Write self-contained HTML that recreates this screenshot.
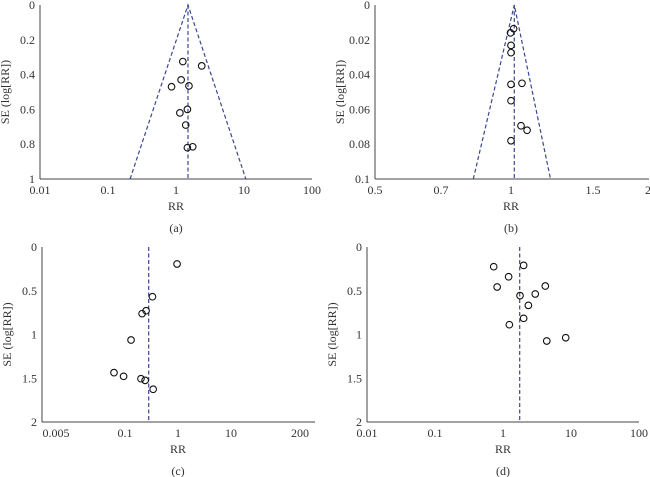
<!DOCTYPE html>
<html><head><meta charset="utf-8"><style>
html,body{margin:0;padding:0;background:#fff;}
svg{display:block;font-family:"Liberation Serif",serif;}
</style></head><body>
<svg id="fig" width="650" height="477" viewBox="0 0 650 477" xmlns="http://www.w3.org/2000/svg"></svg>
<script>
// Panel (a)
const aRR = [1.26, 2.39, 1.19, 0.86, 1.55, 1.47, 1.14, 1.39, 1.47, 1.76];
const aSE = [0.325, 0.35, 0.43, 0.47, 0.465, 0.6, 0.62, 0.69, 0.82, 0.815];
const aXTicks = [0.01, 0.1, 1, 10, 100];
const aXLabels = ["0.01", "0.1", "1", "10", "100"];
const aYTicks = [0, 0.2, 0.4, 0.6, 0.8, 1];
const aYLabels = ["0", "0.2", "0.4", "0.6", "0.8", "1"];
const aPooled = [1.5];
// Panel (b)
const bRR = [1.016, 0.998, 1.0, 1.0, 1.0, 1.067, 1.0, 1.061, 1.098, 1.0];
const bSE = [0.0136, 0.016, 0.0232, 0.0274, 0.0456, 0.045, 0.055, 0.0694, 0.072, 0.078];
const bXTicks = [0.5, 0.7, 1, 1.5, 2];
const bXLabels = ["0.5", "0.7", "1", "1.5", "2"];
const bYTicks = [0, 0.02, 0.04, 0.06, 0.08, 0.1];
const bYLabels = ["0", "0.02", "0.04", "0.06", "0.08", "0.1"];
const bPooled = [1.02];
// Panel (c)
const cRR = [0.96, 0.33, 0.25, 0.21, 0.13, 0.062, 0.094, 0.20, 0.24, 0.34];
const cSE = [0.194, 0.568, 0.728, 0.762, 1.063, 1.436, 1.478, 1.505, 1.524, 1.626];
const cXTicks = [0.005, 0.1, 1, 10, 200];
const cXLabels = ["0.005", "0.1", "1", "10", "200"];
const cYTicks = [0, 0.5, 1, 1.5, 2];
const cYLabels = ["0", "0.5", "1", "1.5", "2"];
const cPooled = [0.28];
// Panel (d)
const dRR = [0.73, 2.01, 1.21, 0.82, 4.19, 2.98, 1.78, 2.36, 2.01, 1.24, 8.36, 4.40];
const dSE = [0.225, 0.21, 0.34, 0.457, 0.446, 0.537, 0.556, 0.667, 0.815, 0.888, 1.037, 1.074];
const dXTicks = [0.01, 0.1, 1, 10, 100];
const dXLabels = ["0.01", "0.1", "1", "10", "100"];
const dYTicks = [0, 0.5, 1, 1.5, 2];
const dYLabels = ["0", "0.5", "1", "1.5", "2"];
const dPooled = [1.76];

const NS = "http://www.w3.org/2000/svg";
const svg = document.getElementById("fig");
function mk(tag, attrs, parent) {
  const e = document.createElementNS(NS, tag);
  for (const k in attrs) e.setAttribute(k, attrs[k]);
  (parent || svg).appendChild(e);
  return e;
}
function logScale(v0, p0, v1, p1) {
  return v => p0 + (Math.log10(v) - Math.log10(v0)) / (Math.log10(v1) - Math.log10(v0)) * (p1 - p0);
}
function pieceScale(vals, pos) {
  return v => {
    let i = 0;
    while (i < vals.length - 2 && v > vals[i + 1]) i++;
    return pos[i] + (v - vals[i]) / (vals[i + 1] - vals[i]) * (pos[i + 1] - pos[i]);
  };
}

function panel(id, letter, cfg) {
  const g = mk("g", {});
  
  
  const {x0, x1, y0, y1, xs, ys, xT, xL, yT, yL, rr, se, pooled, funnel, seMax} = cfg;
  yT.forEach((t, i) => {
    const tx = mk("text", {x: x0 - 5, y: ys(t) + 4, "text-anchor": "end", "font-size": 12, fill: "#333"}, g);
    
    
    tx.textContent = yL[i];
  });
  xT.forEach((t, i) => {
    const tx = mk("text", {x: xs(t), y: y1 + 15, "text-anchor": "middle", "font-size": 12, fill: "#333"}, g);
    
    
    tx.textContent = xL[i];
  });
  const ya = mk("line", {x1: x0, y1: y0, x2: x0, y2: y1, stroke: "#444", "stroke-width": 1}, g);
  
  
  const xa = mk("line", {x1: x0, y1: y1, x2: x1, y2: y1, stroke: "#444", "stroke-width": 1}, g);
  
  
  const c = pooled[0];
  const pl = mk("line", {x1: xs(c), y1: y0, x2: xs(c), y2: y1, stroke: "#3a4790", "stroke-width": 1.2, "stroke-dasharray": "4,2.5"}, g);
  
  
  if (funnel) {
    const lo = c * Math.exp(-1.96 * seMax);
    const hi = c * Math.exp(1.96 * seMax);
    const fl = mk("polyline", {points: `${xs(lo)},${y1} ${xs(c)},${ys(0)} ${xs(hi)},${y1}`, fill: "none", stroke: "#3a4790", "stroke-width": 1.2, "stroke-dasharray": "4,2.5"}, g);
    
    
  }
  rr.forEach((v, i) => {
    const p = mk("circle", {cx: xs(v), cy: ys(se[i]), r: 3.3, fill: "none", stroke: "#111", "stroke-width": 1.1}, g);
    
    
  });
  const xt = mk("text", {x: cfg.rrX, y: y1 + 31, "text-anchor": "middle", "font-size": 12, fill: "#333"}, g);
  
  
  xt.textContent = "RR";
  const ymid = (y0 + y1) / 2;
  const yt = mk("text", {x: x0 - 31, y: ymid, "text-anchor": "middle", "font-size": 12, fill: "#333", transform: `rotate(-90 ${x0 - 31} ${ymid})`}, g);
  
  
  yt.textContent = "SE (log[RR])";
  const lt = mk("text", {x: cfg.rrX, y: y1 + 53, "text-anchor": "middle", "font-size": 12, fill: "#333"}, g);
  
  
  lt.textContent = "(" + letter + ")";
}

panel("a", "a", {x0: 40, x1: 312, y0: 5, y1: 179,
  xs: logScale(0.01, 40, 100, 312), ys: v => 5 + v / 1 * 174,
  xT: aXTicks, xL: aXLabels, yT: aYTicks, yL: aYLabels, rr: aRR, se: aSE, pooled: aPooled,
  funnel: true, seMax: 1, rrX: 176});
panel("b", "b", {x0: 375, x1: 649, y0: 5, y1: 179,
  xs: pieceScale(bXTicks, [375, 441, 511, 593, 648]), ys: v => 5 + v / 0.1 * 174,
  xT: bXTicks, xL: bXLabels, yT: bYTicks, yL: bYLabels, rr: bRR, se: bSE, pooled: bPooled,
  funnel: true, seMax: 0.1, rrX: 511});
panel("c", "c", {x0: 42, x1: 315, y0: 247, y1: 422,
  xs: v => 178 + Math.log10(v) * 53, ys: v => 247 + v / 2 * 175,
  xT: cXTicks, xL: cXLabels, yT: cYTicks, yL: cYLabels, rr: cRR, se: cSE, pooled: cPooled,
  funnel: false, rrX: 178});
panel("d", "d", {x0: 367, x1: 639, y0: 247, y1: 422,
  xs: logScale(0.01, 367, 100, 639), ys: v => 247 + v / 2 * 175,
  xT: dXTicks, xL: dXLabels, yT: dYTicks, yL: dYLabels, rr: dRR, se: dSE, pooled: dPooled,
  funnel: false, rrX: 503});
</script>
</body></html>
